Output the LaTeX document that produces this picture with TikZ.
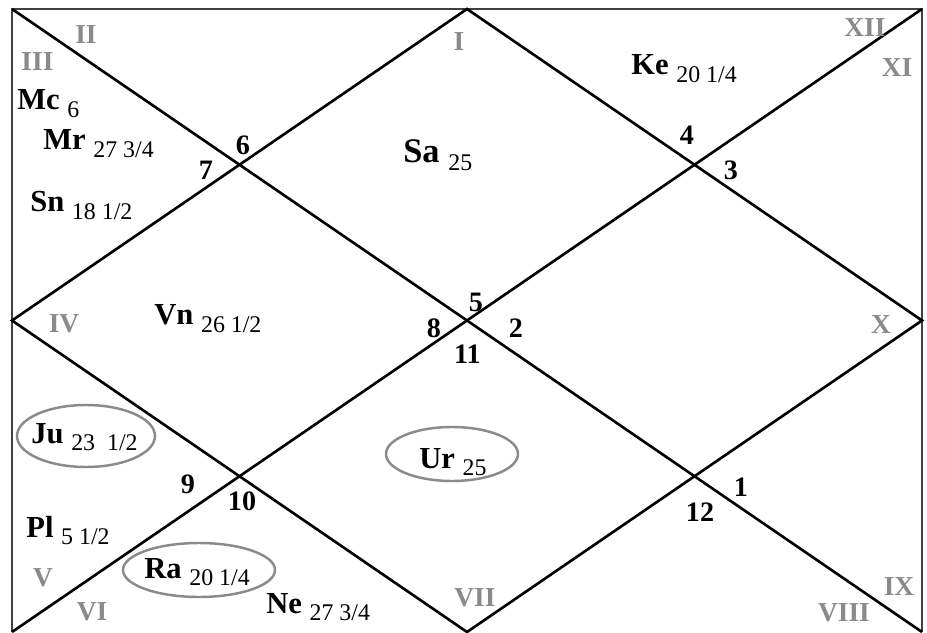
\documentclass[tikz,border=0pt]{standalone}
\usepackage{fontspec}
\setmainfont{Liberation Serif}
\usepackage{xcolor}
\usepackage{tikz}
\definecolor{rimgray}{HTML}{8A8A8A}
\newcommand\dg[1]{\raisebox{-2.2pt}{\fontsize{6.8}{8}\selectfont\mdseries#1}}
\tikzset{
  pl/.style={font=\fontsize{8.7}{10}\selectfont\bfseries,inner sep=0pt,anchor=base west},
  rasi/.style={font=\fontsize{7.8}{9}\selectfont\bfseries,text=rimgray,inner sep=0pt},
  bhava/.style={font=\fontsize{8}{9}\selectfont\bfseries,inner sep=0pt},
  ring/.style={draw=rimgray,line width=0.7pt}
}
\begin{document}
\begin{tikzpicture}[line width=0.75pt]
\useasboundingbox(0,0)rectangle(9.27,6.32);
\coordinate(bl)at(0.12,0);\coordinate(tl)at(0.12,6.23);
\coordinate(tr)at(9.22,6.23);\coordinate(br)at(9.22,0);
\coordinate(t)at(4.67,6.23);\coordinate(b)at(4.67,0);
\coordinate(l)at(0.12,3.115);\coordinate(r)at(9.22,3.115);
\draw[black!75](bl)--(tl)--(tr)--(br);
\draw(tl)--(br);
\draw(bl)--(tr);
\draw(t)--(r)--(b)--(l)--cycle;
\draw[ring](0.86,1.96)ellipse[x radius=0.69,y radius=0.31];
\draw[ring](4.52,1.78)ellipse[x radius=0.66,y radius=0.27];
\draw[ring](1.99,0.62)ellipse[x radius=0.76,y radius=0.27];
\node[rasi](h1)at(4.59,5.90){I};
\node[rasi](h2)at(0.86,5.97){II};
\node[rasi](h3)at(0.375,5.70){III};
\node[rasi](h4)at(0.64,3.08){IV};
\node[rasi](h5)at(0.43,0.54){V};
\node[rasi](h6)at(0.92,0.20){VI};
\node[rasi](h7)at(4.75,0.34){VII};
\node[rasi](h8)at(8.44,0.19){VIII};
\node[rasi](h9)at(8.99,0.45){IX};
\node[rasi](h10)at(8.81,3.07){X};
\node[rasi](h11)at(8.97,5.645){XI};
\node[rasi](h12)at(8.65,6.045){XII};
\node[bhava](n1)at(7.41,1.445){1};
\node[bhava](n2)at(5.16,3.04){2};
\node[bhava](n3)at(7.31,4.62){3};
\node[bhava](n4)at(6.87,4.97){4};
\node[bhava](n5)at(4.76,3.30){5};
\node[bhava](n6)at(2.43,4.87){6};
\node[bhava](n7)at(2.06,4.62){7};
\node[bhava](n8)at(4.34,3.04){8};
\node[bhava](n9)at(1.88,1.48){9};
\node[bhava](n10)at(2.42,1.31){10};
\node[bhava](n11)at(4.675,2.78){11};
\node[bhava](n12)at(7.00,1.20){12};
\node[pl](mc)at(0.16,5.22){Mc \dg{6}};
\node[pl](mr)at(0.42,4.82){Mr \dg{27 3/4}};
\node[pl](sn)at(0.29,4.20){Sn \dg{18 1/2}};
\node[pl,font=\fontsize{9.8}{11}\selectfont\bfseries](sa)at(4.02,4.69){Sa \dg{25}};
\node[pl](ke)at(6.30,5.57){Ke \dg{20 1/4}};
\node[pl](vn)at(1.53,3.07){Vn \dg{26 1/2}};
\node[pl](ju)at(0.30,1.89){Ju \dg{23~~1/2}};
\node[pl](ur)at(4.18,1.64){Ur \dg{25}};
\node[pl](pl)at(0.25,0.95){Pl \dg{5 1/2}};
\node[pl](ra)at(1.43,0.54){Ra \dg{20 1/4}};
\node[pl](ne)at(2.65,0.19){Ne \dg{27 3/4}};
\end{tikzpicture}
\end{document}
